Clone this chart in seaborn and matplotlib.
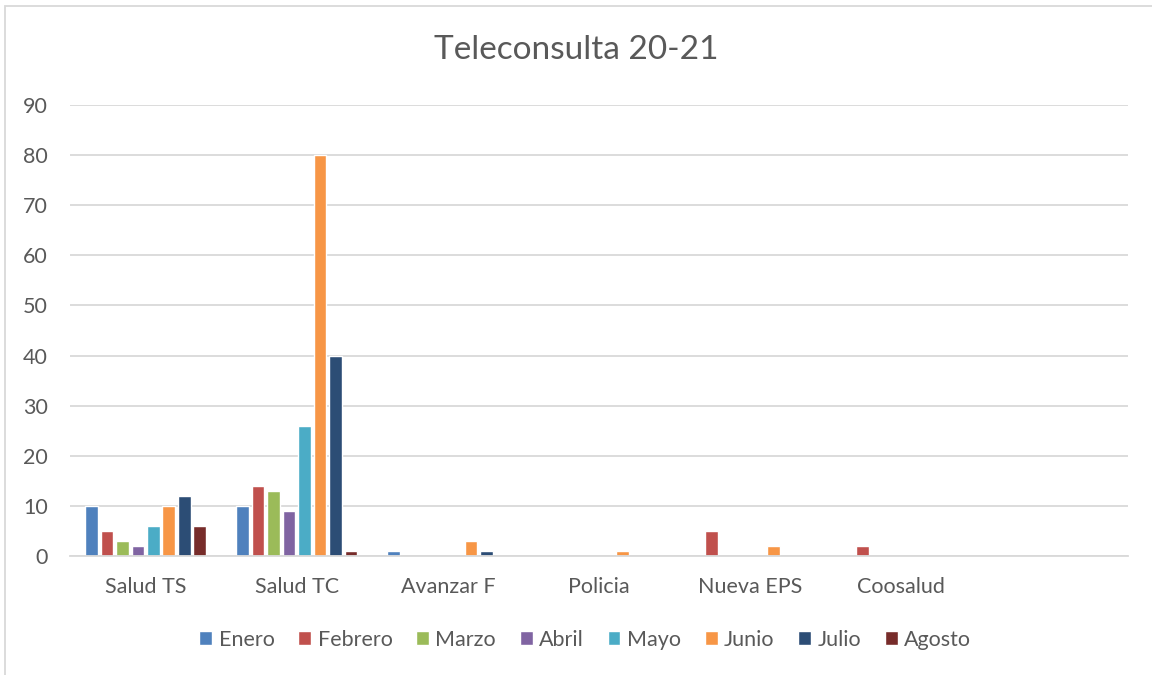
import seaborn as sns
import matplotlib.pyplot as plt
import pandas as pd
from matplotlib.patches import Rectangle

# Datos del gráfico (la última categoría está vacía, como en el original)
categorias = ['Salud TS', 'Salud TC', 'Avanzar F', 'Policia', 'Nueva EPS', 'Coosalud', '']
meses = ['Enero', 'Febrero', 'Marzo', 'Abril', 'Mayo', 'Junio', 'Julio', 'Agosto']

enero = [10, 10, 1, 0, 0, 0, 0]
febrero = [5, 14, 0, 0, 5, 2, 0]
marzo = [3, 13, 0, 0, 0, 0, 0]
abril = [2, 9, 0, 0, 0, 0, 0]
mayo = [6, 26, 0, 0, 0, 0, 0]
junio = [10, 80, 3, 1, 2, 0, 0]
julio = [12, 40, 1, 0, 0, 0, 0]
agosto = [6, 1, 0, 0, 0, 0, 0]

colores = ['#4F81BD', '#C0504D', '#9BBB59', '#8064A2',
           '#4BACC6', '#F79646', '#2C4D75', '#772C2A']

valores = [enero, febrero, marzo, abril, mayo, junio, julio, agosto]
filas = []
for mes, serie in zip(meses, valores):
    for cat, v in zip(categorias, serie):
        filas.append({'Entidad': cat, 'Mes': mes, 'Valor': v})
df = pd.DataFrame(filas)

sns.set_style('white')
plt.rcParams['font.family'] = ['Lato', 'DejaVu Sans']
texto = '#595959'

fig = plt.figure(figsize=(11.52, 6.75), dpi=100)
ax = fig.add_axes([0.0608, 0.1763, 0.9184, 0.6681])

sns.barplot(data=df, x='Entidad', y='Valor', hue='Mes', order=categorias,
            hue_order=meses, palette=colores, width=0.82, gap=0.18,
            saturation=1, ax=ax, legend=True)

ax.set_ylim(0, 90)
ax.set_xlim(-0.5, len(categorias) - 0.5)
ax.set_yticks(range(0, 91, 10))
ax.yaxis.grid(True, color='#D9D9D9', linewidth=1.3)
ax.set_axisbelow(True)
for s in ['top', 'right', 'left']:
    ax.spines[s].set_visible(False)
ax.spines['bottom'].set_color('#D9D9D9')
ax.spines['bottom'].set_linewidth(1.3)
ax.tick_params(axis='x', length=0, pad=15, labelsize=15.5, colors=texto)
ax.tick_params(axis='y', length=0, pad=16, labelsize=15.5, colors=texto)
ax.set_xlabel('')
ax.set_ylabel('')

fig.suptitle('Teleconsulta 20-21', x=0.5, y=0.948, fontsize=24, color=texto)

ax.legend(loc='center', bbox_to_anchor=(0.508, 0.052), bbox_transform=fig.transFigure,
          ncol=8, frameon=False, fontsize=15.5, handlelength=0.6, handleheight=0.6,
          handletextpad=0.3, columnspacing=1.1, labelcolor=texto)

# Borde del área del gráfico
fig.patches.append(Rectangle((0.0045, -0.1), 1.2, 1.091, transform=fig.transFigure,
                             fill=False, edgecolor='#D9D9D9', linewidth=1.3))

fig.savefig('out.png', dpi=100)
